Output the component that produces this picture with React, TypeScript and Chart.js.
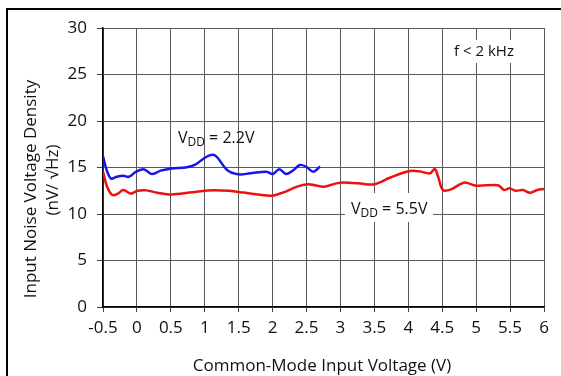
import React, { useEffect, useRef } from "react";
import { Chart, registerables } from "chart.js";

Chart.register(...registerables);

const xTickValues = [-0.5, 0, 0.5, 1, 1.5, 2, 2.5, 3, 3.5, 4, 4.5, 5, 5.5, 6];

const vdd22X = [-0.5, -0.44, -0.38, -0.3, -0.2, -0.12, -0.01, 0.09, 0.14, 0.22, 0.35, 0.51, 0.72, 0.86, 0.99, 1.09, 1.17, 1.33, 1.49, 1.67, 1.91, 2.0, 2.1, 2.2, 2.31, 2.4, 2.49, 2.6, 2.7];
const vdd22Y = [16.2, 14.6, 13.8, 14.0, 14.1, 14.0, 14.55, 14.8, 14.66, 14.3, 14.66, 14.9, 15.0, 15.3, 16.0, 16.35, 16.2, 14.73, 14.27, 14.37, 14.55, 14.3, 14.8, 14.3, 14.73, 15.27, 15.1, 14.55, 15.1];

const vdd55X = [-0.5, -0.44, -0.36, -0.28, -0.2, -0.09, 0.01, 0.14, 0.3, 0.51, 0.78, 1.04, 1.36, 1.57, 1.78, 1.99, 2.15, 2.36, 2.52, 2.62, 2.76, 2.99, 3.26, 3.5, 3.73, 4.0, 4.16, 4.32, 4.39, 4.44, 4.51, 4.63, 4.82, 5.0, 5.32, 5.41, 5.49, 5.58, 5.69, 5.79, 5.9, 6.0];
const vdd55Y = [14.55, 12.94, 12.04, 12.2, 12.58, 12.2, 12.5, 12.54, 12.29, 12.1, 12.3, 12.54, 12.5, 12.3, 12.1, 11.97, 12.3, 12.94, 13.2, 13.1, 12.94, 13.37, 13.3, 13.2, 13.9, 14.6, 14.6, 14.37, 14.84, 14.0, 12.58, 12.65, 13.37, 13.04, 13.1, 12.58, 12.76, 12.5, 12.58, 12.29, 12.58, 12.68];

const FONT = "'Open Sans', 'Noto Sans', sans-serif";
const TEXT = "#111111";

const decorPlugin = {
  id: "decor",
  beforeDraw(chart: any) {
    const ctx = chart.ctx;
    ctx.save();
    ctx.fillStyle = "#ffffff";
    ctx.fillRect(0, 0, chart.width, chart.height);
    ctx.restore();
  },
  afterDraw(chart: any) {
    const ctx = chart.ctx;
    ctx.save();
    // outer frame
    ctx.strokeStyle = "#000";
    ctx.lineWidth = 2;
    ctx.strokeRect(7, 9, 640, 440);

    ctx.fillStyle = TEXT;
    ctx.font = `17px ${FONT}`;
    ctx.textAlign = "center";
    ctx.textBaseline = "middle";
    // x title
    ctx.fillText("Common-Mode Input Voltage (V)", 322, 366);
    // y title
    ctx.save();
    ctx.translate(31.5, 189);
    ctx.rotate(-Math.PI / 2);
    ctx.fillText("Input Noise Voltage Density", 0, 0);
    ctx.restore();
    ctx.save();
    ctx.translate(53, 180);
    ctx.rotate(-Math.PI / 2);
    ctx.fillText("(nV/ \u221AHz)", 0, 0);
    ctx.restore();

    // annotations
    const vdd = (x: number, y: number, val: string) => {
      ctx.textAlign = "left";
      ctx.textBaseline = "middle";
      ctx.font = `16px ${FONT}`;
      ctx.fillText("V", x, y);
      let cx = x + ctx.measureText("V").width;
      ctx.font = `12px ${FONT}`;
      ctx.fillText("DD", cx, y + 5);
      cx += ctx.measureText("DD").width;
      ctx.font = `16px ${FONT}`;
      ctx.fillText(" = " + val, cx, y);
    };
    vdd(178, 138, "2.2V");
    ctx.fillStyle = "#fff";
    ctx.fillRect(345, 193, 88, 29);
    ctx.fillStyle = TEXT;
    vdd(351, 209, "5.5V");

    ctx.fillStyle = "#fff";
    ctx.fillRect(450, 40, 70, 23);
    ctx.fillStyle = TEXT;
    ctx.font = `15px ${FONT}`;
    ctx.textAlign = "center";
    ctx.fillText("f < 2 kHz", 484, 52);
    ctx.restore();
  },
};

export default function App() {
  const ref = useRef<HTMLCanvasElement | null>(null);
  useEffect(() => {
    if (!ref.current) return;
    const chart = new Chart(ref.current, {
      type: "line",
      data: {
        datasets: [
          {
            label: "VDD = 5.5V",
            data: vdd55X.map((x, i) => ({ x, y: vdd55Y[i] })),
            borderColor: "#ee1111",
            borderWidth: 2.5,
            pointRadius: 0,
            tension: 0.35,
            fill: false,
          },
          {
            label: "VDD = 2.2V",
            data: vdd22X.map((x, i) => ({ x, y: vdd22Y[i] })),
            borderColor: "#1515ee",
            borderWidth: 2.5,
            pointRadius: 0,
            tension: 0.35,
            fill: false,
          },
        ],
      },
      plugins: [decorPlugin],
      options: {
        animation: false,
        responsive: false,
        devicePixelRatio: 1,
        layout: { padding: { top: 28, right: 17, left: 0, bottom: 0 } },
        plugins: { legend: { display: false }, tooltip: { enabled: false } },
        scales: {
          x: {
            type: "linear",
            min: -0.5,
            max: 6,
            afterBuildTicks: (scale: any) => {
              scale.ticks = xTickValues.map((v) => ({ value: v }));
            },
            afterFit: (scale: any) => {
              scale.height = 69;
            },
            ticks: {
              font: { family: FONT, size: 17 },
              color: TEXT,
              padding: 6,
              maxRotation: 0,
              autoSkip: false,
              callback: (v: any) => String(v),
            },
            grid: { color: "#595959", lineWidth: 1, tickLength: 5, tickColor: "#444" },
            border: { color: "#000", width: 1.5 },
          },
          y: {
            min: 0,
            max: 30,
            ticks: {
              stepSize: 5,
              font: { family: FONT, size: 17 },
              color: TEXT,
              padding: 10,
            },
            afterFit: (scale: any) => {
              scale.width = 103;
            },
            grid: { color: "#595959", lineWidth: 1, tickLength: 6, tickColor: "#444" },
            border: { color: "#000", width: 1.5 },
          },
        },
      },
    });
    return () => chart.destroy();
  }, []);
  return (
    <div style={{ position: "absolute", left: 0, top: 0, width: 561, height: 376 }}>
      <canvas ref={ref} width={561} height={376} style={{ display: "block" }} />
    </div>
  );
}
